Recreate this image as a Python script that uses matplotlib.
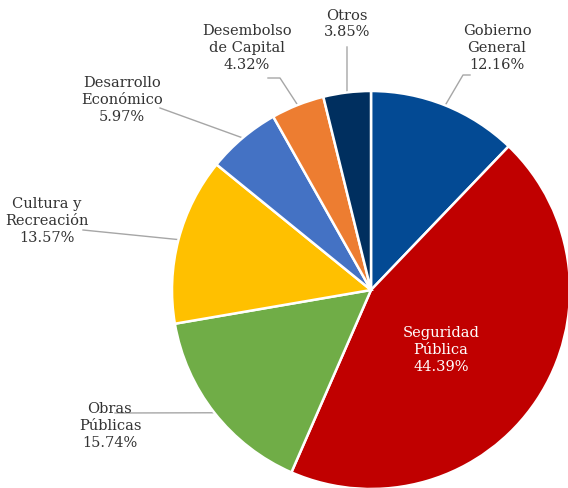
import numpy as np
import matplotlib
matplotlib.use('Agg')
import matplotlib.pyplot as plt

labels = ['Gobierno\nGeneral', 'Seguridad\nPública', 'Obras\nPúblicas', 'Cultura y\nRecreación',
          'Desarrollo\nEconómico', 'Desembolso\nde Capital', 'Otros']
values = [12.16, 44.39, 15.74, 13.57, 5.97, 4.32, 3.85]
colors = ['#034A94', '#C00000', '#70AD47', '#FFC000', '#4472C4', '#ED7D31', '#002F5F']

W, H = 568, 488
fig = plt.figure(figsize=(W / 100, H / 100), dpi=100)
ax = fig.add_axes([0, 0, 1, 1])

cx, cy, r = 371, H - 290, 199
wedges, _ = ax.pie(values, colors=colors, startangle=90, counterclock=False,
                   center=(cx, cy), radius=r, frame=True,
                   wedgeprops=dict(edgecolor='white', linewidth=1.8))
ax.set_xlim(0, W)
ax.set_ylim(0, H)
ax.set_aspect('equal')
ax.axis('off')

# label centres (pixels from top-left) and where the leader line meets the text
label_pos = [(497, 48), None, (110, 426), (47, 221), (122, 100), (247, 48), (347, 24)]
anchors = [[(470, 75), (463, 75)], None, [(115, 413)], [(83, 230)],
           [(160, 108)], [(268, 78), (280, 78)], [(347, 47)]]

font = dict(family='DejaVu Serif', fontsize=10.5)
for i, w in enumerate(wedges):
    txt = labels[i] + '\n' + '%.2f%%' % values[i]
    mid = np.deg2rad((w.theta1 + w.theta2) / 2)
    if label_pos[i] is None:
        ax.text(441, H - 350, txt, ha='center', va='center', color='white',
                linespacing=1.25, **font)
        continue
    lx, ly = label_pos[i]
    ax.text(lx, H - ly, txt, ha='center', va='center', color='#333333',
            linespacing=1.25, **font)
    ex, ey = cx + r * np.cos(mid), cy + r * np.sin(mid)
    pts = [(x, H - y) for x, y in anchors[i]] + [(ex, ey)]
    ax.plot([p[0] for p in pts], [p[1] for p in pts], color='#A6A6A6', lw=1, zorder=0.5)

fig.savefig('out.png', dpi=100)
